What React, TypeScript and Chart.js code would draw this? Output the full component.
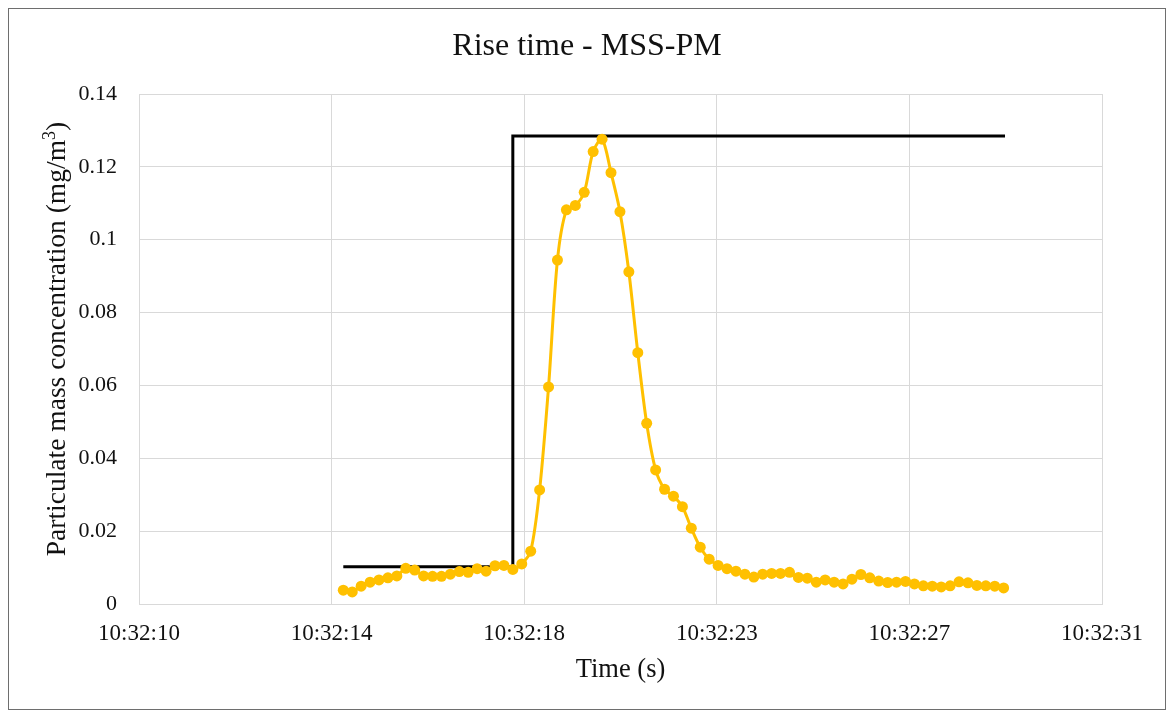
import React, { useEffect, useRef } from "react";
import { Chart, registerables } from "chart.js";

Chart.register(...registerables);

// Sample times (s, relative to axis origin) and measured concentration (mg/m³)
const TIMES = [
  4.455, 4.65, 4.844, 5.039, 5.233, 5.428, 5.623, 5.817, 6.012, 6.206,
  6.401, 6.596, 6.79, 6.985, 7.179, 7.374, 7.569, 7.763, 7.958, 8.152,
  8.347, 8.542, 8.736, 8.931, 9.125, 9.32, 9.515, 9.709, 9.904, 10.098,
  10.293, 10.488, 10.682, 10.877, 11.071, 11.266, 11.461, 11.655, 11.85, 12.044,
  12.239, 12.434, 12.628, 12.823, 13.017, 13.212, 13.407, 13.601, 13.796, 13.99,
  14.185, 14.38, 14.574, 14.769, 14.963, 15.158, 15.353, 15.547, 15.742, 15.936,
  16.131, 16.326, 16.52, 16.715, 16.909, 17.104, 17.299, 17.493, 17.688, 17.882,
  18.077, 18.272, 18.466, 18.661, 18.855,
];

const PM_VALUES = [
  0.0038, 0.0033, 0.0049, 0.006, 0.0066, 0.0072, 0.0077, 0.0098, 0.0093, 0.0077,
  0.0076, 0.0076, 0.0082, 0.0089, 0.0087, 0.0097, 0.009, 0.0105, 0.0106, 0.0095,
  0.011, 0.0145, 0.0313, 0.0596, 0.0944, 0.1082, 0.1094, 0.113, 0.1242, 0.1276,
  0.1184, 0.1077, 0.0912, 0.069, 0.0496, 0.0368, 0.0315, 0.0296, 0.0267, 0.0208,
  0.0156, 0.0123, 0.0106, 0.0097, 0.009, 0.0082, 0.0074, 0.0082, 0.0084, 0.0084,
  0.0087, 0.0073, 0.0071, 0.006, 0.0066, 0.006, 0.0055, 0.0068, 0.0081, 0.0072,
  0.0063, 0.0059, 0.006, 0.0062, 0.0055, 0.005, 0.0049, 0.0047, 0.005, 0.0061,
  0.0058, 0.0051, 0.005, 0.0049, 0.0044,
];

// Reference step signal
const STEP_X = [4.455, 8.152, 8.152, 18.885];
const STEP_Y = [0.0102, 0.0102, 0.1285, 0.1285];

// X axis ticks
const X_TICK_VALUES = [0, 4.2, 8.4, 12.6, 16.8, 21];
const X_TICK_LABELS = ["10:32:10", "10:32:14", "10:32:18", "10:32:23", "10:32:27", "10:32:31"];

const TITLE = "Rise time - MSS-PM";
const Y_TITLE_MAIN = "Particulate mass concentration (mg/m";
const Y_TITLE_SUP = "3";
const Y_TITLE_END = ")";
const X_TITLE = "Time (s)";

const FONT = '"Liberation Serif", "Times New Roman", serif';
const TEXT = "#111111";
const GRID = "#d9d9d9";

const titlesPlugin = {
  id: "customTitles",
  afterDraw(chart: any) {
    const ctx = chart.ctx as CanvasRenderingContext2D;
    ctx.save();
    ctx.fillStyle = TEXT;
    // main title, centred on the whole canvas
    ctx.font = `32px ${FONT}`;
    ctx.textAlign = "center";
    ctx.textBaseline = "middle";
    ctx.fillText(TITLE, chart.width / 2, 38);

    // y axis title with superscript
    const mainFont = `27.5px ${FONT}`;
    const supFont = `18px ${FONT}`;
    ctx.font = mainFont;
    const w1 = ctx.measureText(Y_TITLE_MAIN).width;
    const w3 = ctx.measureText(Y_TITLE_END).width;
    ctx.font = supFont;
    const w2 = ctx.measureText(Y_TITLE_SUP).width;
    const total = w1 + w2 + w3;
    ctx.translate(49, 330);
    ctx.rotate(-Math.PI / 2);
    ctx.textAlign = "left";
    ctx.textBaseline = "middle";
    let x = -total / 2;
    ctx.font = mainFont;
    ctx.fillText(Y_TITLE_MAIN, x, 0);
    x += w1;
    ctx.font = supFont;
    ctx.fillText(Y_TITLE_SUP, x, -8);
    x += w2;
    ctx.font = mainFont;
    ctx.fillText(Y_TITLE_END, x, 0);
    ctx.restore();
  },
};

export default function App() {
  const ref = useRef<HTMLCanvasElement | null>(null);

  useEffect(() => {
    if (!ref.current) return;
    const pm = TIMES.map((t, i) => ({ x: t, y: PM_VALUES[i] }));
    const step = STEP_X.map((x, i) => ({ x, y: STEP_Y[i] }));
    const chart = new Chart(ref.current, {
      type: "line",
      data: {
        datasets: [
          {
            label: "MSS-PM",
            data: pm,
            borderColor: "#FFC000",
            backgroundColor: "#FFC000",
            borderWidth: 3,
            pointRadius: 5.5,
            pointBorderWidth: 0,
            pointBackgroundColor: "#FFC000",
            tension: 0.3,
            fill: false,
          },
          {
            label: "Step",
            data: step,
            borderColor: "#000000",
            borderWidth: 3,
            pointRadius: 0,
            tension: 0,
            fill: false,
          },
        ],
      },
      plugins: [titlesPlugin],
      options: {
        animation: false,
        responsive: false,
        devicePixelRatio: 1,
        layout: { padding: { left: 0, right: 63, top: 85, bottom: 0 } },
        plugins: {
          legend: { display: false },
          tooltip: { enabled: false },
          title: { display: false },
        },
        scales: {
          x: {
            type: "linear",
            min: 0,
            max: 21,
            afterBuildTicks: (scale: any) => {
              scale.ticks = X_TICK_VALUES.map((v) => ({ value: v }));
            },
            afterFit: (scale: any) => {
              scale.height = 105;
            },
            ticks: {
              autoSkip: false,
              maxRotation: 0,
              padding: 16,
              color: TEXT,
              font: { family: FONT, size: 23 },
              callback: (_v: any, i: number) => X_TICK_LABELS[i],
            },
            grid: { color: GRID, lineWidth: 1, drawTicks: false },
            border: { color: GRID, width: 1 },
            title: {
              display: true,
              text: X_TITLE,
              color: TEXT,
              font: { family: FONT, size: 26.5 },
              padding: { top: 0, bottom: 23 },
            },
          },
          y: {
            min: 0,
            max: 0.14,
            afterFit: (scale: any) => {
              scale.width = 130;
            },
            ticks: {
              stepSize: 0.02,
              padding: 22,
              color: TEXT,
              font: { family: FONT, size: 22 },
              callback: (v: any) => String(Number(Number(v).toFixed(2))),
            },
            grid: { color: GRID, lineWidth: 1, drawTicks: false },
            border: { color: GRID, width: 1 },
            title: { display: false },
          },
        },
      },
    });
    return () => chart.destroy();
  }, []);

  return (
    <div
      style={{
        width: 1156,
        height: 700,
        border: "1px solid #6e6e6e",
        background: "#ffffff",
      }}
    >
      <canvas ref={ref} width={1156} height={700} style={{ display: "block" }} />
    </div>
  );
}
